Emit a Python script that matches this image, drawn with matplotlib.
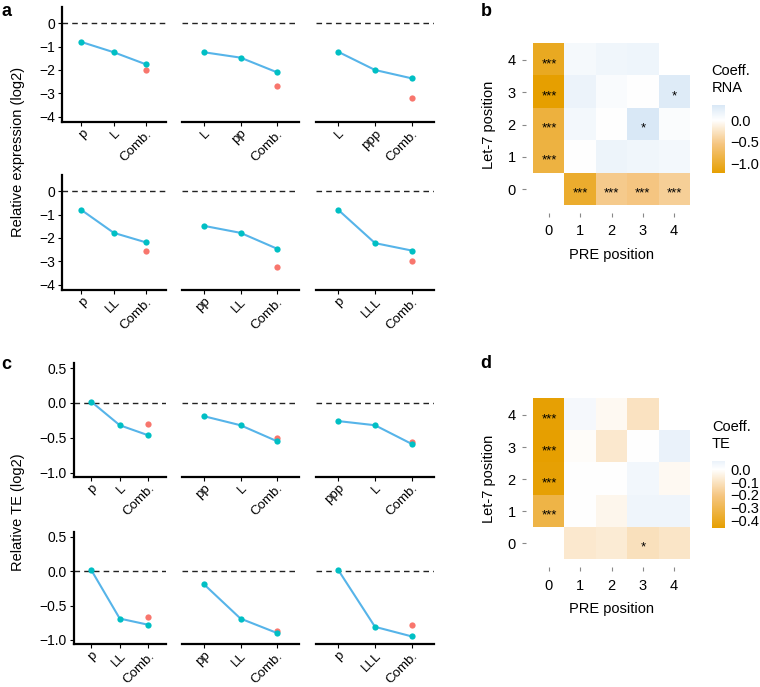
import numpy as np
import matplotlib
matplotlib.use("Agg")
import matplotlib.pyplot as plt
from matplotlib.colors import LinearSegmentedColormap, Normalize

plt.rcParams['font.family'] = ['Liberation Sans', 'DejaVu Sans']
plt.rcParams['font.size'] = 10

W, H = 760, 687

# ---- panel a: relative expression (log2)
a_labels = [["p", "L", "Comb."], ["L", "pp", "Comb."], ["L", "ppp", "Comb."],
            ["p", "LL", "Comb."], ["pp", "LL", "Comb."], ["p", "LLL", "Comb."]]
a_obs = [[-0.80, -1.24, -1.76], [-1.24, -1.47, -2.10], [-1.22, -2.00, -2.36],
         [-0.80, -1.78, -2.19], [-1.48, -1.78, -2.46], [-0.79, -2.22, -2.54]]
a_pred = [-2.02, -2.69, -3.22, -2.57, -3.24, -2.98]

# ---- panel c: relative TE (log2)
c_labels = [["p", "L", "Comb."], ["pp", "L", "Comb."], ["ppp", "L", "Comb."],
            ["p", "LL", "Comb."], ["pp", "LL", "Comb."], ["p", "LLL", "Comb."]]
c_obs = [[0.02, -0.32, -0.465], [-0.19, -0.32, -0.55], [-0.26, -0.32, -0.59],
         [0.02, -0.69, -0.78], [-0.19, -0.69, -0.90], [0.02, -0.81, -0.95]]
c_pred = [-0.295, -0.50, -0.56, -0.66, -0.87, -0.79]

# ---- heatmaps: rows = Let-7 position 0..4, cols = PRE position 0..4
positions = [0, 1, 2, 3, 4]
nan = np.nan
b_coef = [[nan, -0.98, -0.50, -0.55, -0.45],
          [-0.88, 0.00, 0.16, 0.13, 0.10],
          [-0.90, 0.10, 0.00, 0.35, 0.04],
          [-1.23, 0.17, 0.05, 0.00, 0.30],
          [-1.05, 0.08, 0.13, 0.15, nan]]
b_stars = [["", "***", "***", "***", "***"],
           ["***", "", "", "", ""],
           ["***", "", "", "*", ""],
           ["***", "", "", "", "*"],
           ["***", "", "", "", ""]]
d_coef = [[nan, -0.08, -0.07, -0.11, -0.09],
          [-0.32, 0.00, -0.03, 0.05, 0.05],
          [-0.45, 0.00, 0.00, 0.04, -0.02],
          [-0.46, -0.01, -0.08, 0.00, 0.067],
          [-0.45, 0.03, -0.02, -0.10, nan]]
d_stars = [["", "", "", "*", ""],
           ["***", "", "", "", ""],
           ["***", "", "", "", ""],
           ["***", "", "", "", ""],
           ["***", "", "", "", ""]]

line_col = "#56B4E9"
pt_col = "#00BFC4"
pred_col = "#F8766D"

fig = plt.figure(figsize=(7.6, 6.87), dpi=100)


def px_axes(x0, y0, x1, y1):
    return fig.add_axes([x0 / W, 1 - y1 / H, (x1 - x0) / W, (y1 - y0) / H])


def line_panel(ax, labels, obs, pred, ylim, yticks, yticklabels, first):
    x = np.arange(3)
    ax.axhline(0, color="#222222", lw=1, ls=(0, (4, 3)), zorder=1)
    ax.plot(x[2], pred, 'o', color=pred_col, ms=4.5, mec='none', zorder=2)
    ax.plot(x, obs, '-', color=line_col, lw=1.5, zorder=3)
    ax.plot(x, obs, 'o', color=pt_col, ms=4.5, mec='none', zorder=4)
    ax.set_xlim(-0.6, 2.6)
    ax.set_ylim(*ylim)
    ax.set_xticks(x)
    ax.set_xticklabels(labels, rotation=45, ha='right', va='top',
                       rotation_mode='anchor')
    for s in ['top', 'right']:
        ax.spines[s].set_visible(False)
    ax.spines['bottom'].set_linewidth(1.6)
    ax.tick_params(axis='x', length=3, width=0.8, pad=1, labelsize=9.6)
    if first:
        ax.spines['left'].set_linewidth(1.6)
        ax.set_yticks(yticks)
        ax.set_yticklabels(yticklabels)
        ax.tick_params(axis='y', length=3, width=0.8, pad=2, labelsize=10)
    else:
        ax.spines['left'].set_visible(False)
        ax.set_yticks([])


cols_a = [(62, 165.5), (182, 299), (316, 434)]
cols_c = [(74, 165.5), (182, 299), (316, 434)]
rows_a = [(7, 122), (175, 290)]
rows_c = [(363, 476.7), (531.7, 644)]

for i in range(6):
    r, c = divmod(i, 3)
    ax = px_axes(cols_a[c][0], rows_a[r][0], cols_a[c][1], rows_a[r][1])
    line_panel(ax, a_labels[i], a_obs[i], a_pred[i], (-4.23, 0.7),
               [0, -1, -2, -3, -4], ["0", "\u22121", "\u22122", "\u22123", "\u22124"], c == 0)
    ax = px_axes(cols_c[c][0], rows_c[r][0], cols_c[c][1], rows_c[r][1])
    line_panel(ax, c_labels[i], c_obs[i], c_pred[i], (-1.06, 0.575),
               [0.5, 0.0, -0.5, -1.0], ["0.5", "0.0", "\u22120.5", "\u22121.0"], c == 0)

fig.text(18 / W, 1 - 152 / H, "Relative expression (log2)", rotation=90,
         ha='center', va='center', fontsize=10.5)
fig.text(18 / W, 1 - 512 / H, "Relative TE (log2)", rotation=90,
         ha='center', va='center', fontsize=10.5)


def make_cmap(vals, top_col):
    lo, hi = np.nanmin(vals), np.nanmax(vals)
    t0 = -lo / (hi - lo)
    cmap = LinearSegmentedColormap.from_list(
        "cf", [(0, "#E69F00"), (t0 * 0.55, "#F5C580"), (t0, "#FFFFFF"), (1, top_col)])
    cmap.set_bad((1, 1, 1, 0))
    return cmap, Normalize(lo, hi)


def heat_panel(y0, y1, coef, stars, top_col, cb_box, cb_ticks, cb_labels, title):
    vals = np.array(coef, dtype=float)
    cmap, norm = make_cmap(vals, top_col)
    ax = px_axes(525.5, y0, 697.6, y1)
    im = ax.imshow(np.ma.masked_invalid(vals), cmap=cmap, norm=norm,
                   origin='lower', extent=(-0.5, 4.5, -0.5, 4.5), aspect='auto')
    for r in range(5):
        for c in range(5):
            if stars[r][c]:
                ax.text(c, r - 0.22, stars[r][c], ha='center', va='baseline',
                        fontsize=9.5)
    ax.set_xlim(-0.75, 4.75)
    ax.set_ylim(-0.75, 4.75)
    ax.set_xticks(positions)
    ax.set_yticks(positions)
    for s in ax.spines.values():
        s.set_visible(False)
    ax.tick_params(length=3, width=0.8, color="#888888", labelsize=10.5)
    ax.tick_params(axis='x', pad=5)
    ax.tick_params(axis='y', pad=4)
    ax.set_xlabel("PRE position", fontsize=10.5, labelpad=7)
    ax.set_ylabel("Let-7 position", fontsize=10.5, labelpad=8)
    cax = px_axes(*cb_box)
    cb = fig.colorbar(im, cax=cax)
    cb.outline.set_visible(False)
    cb.set_ticks(cb_ticks)
    cb.set_ticklabels(cb_labels)
    cax.tick_params(length=0, pad=4, labelsize=10.5)
    fig.text(cb_box[0] / W, 1 - (cb_box[1] - 10) / H, title, ha='left',
             va='bottom', fontsize=10.5, linespacing=1.25)


heat_panel(35.8, 213.2, b_coef, b_stars, "#D9E8F6", (711.7, 105, 725, 173.3),
           [0.0, -0.5, -1.0], ["0.0", "\u22120.5", "\u22121.0"], "Coeff.\nRNA")
heat_panel(390.9, 567.4, d_coef, d_stars, "#EAF2FA", (712, 460.7, 725, 528.3),
           [0.0, -0.1, -0.2, -0.3, -0.4],
           ["0.0", "\u22120.1", "\u22120.2", "\u22120.3", "\u22120.4"], "Coeff.\nTE")

for lab, x, y in [("a", 1, 3), ("b", 481, 3), ("c", 1, 356), ("d", 480, 355)]:
    fig.text(x / W, 1 - y / H, lab, ha='left', va='top', fontsize=13,
             fontweight='bold')

fig.savefig("out.png", dpi=100)
